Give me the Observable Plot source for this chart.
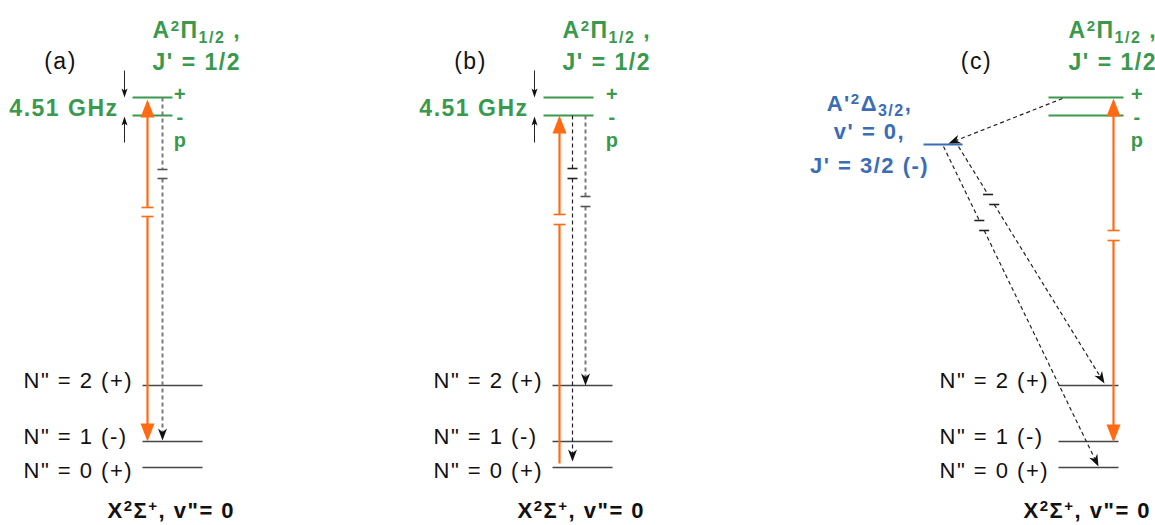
<!DOCTYPE html>
<html>
<head>
<meta charset="utf-8">
<script src="https://cdn.jsdelivr.net/npm/d3@7"></script>
<script src="https://cdn.jsdelivr.net/npm/@observablehq/plot@0.6"></script>
<style>
  body { margin: 0; background: #fff; }
  #chart svg { display: block; }
</style>
</head>
<body>
<div id="chart"></div>
<script>
// ---------------- data ----------------
const panelNames = ["(a)", "(b)", "(c)"];
const panelOffset = [0, 410, 916];          // horizontal shift of each panel (diagram units)

// ground state X2Σ+, v'' = 0 rotational levels
const groundNames = ['N" = 2 (+)', 'N" = 1 (-)', 'N" = 0 (+)'];
const groundLevel = [385, 441, 467];
const groundLabelLevel = [387, 443, 477];
const groundSpan = [142, 202];
const groundTitle = 'X^{2}Σ^{+}, v"= 0';

// excited state A2Π1/2, J' = 1/2 parity doublet
const parityNames = ["+", "-", "p"];
const parityLevel = [97, 115];
const parityLabelCenter = 116;
const excitedSpan = [[132, 172], [543, 593], [1048, 1123]];
const parityLabelX = [180, 612, 1137];
const excitedTitle = ["A^{2}Π_{1/2} ,", "J' = 1/2"];
const excitedTitleLevel = [37, 69];
const splittingText = "4.51 GHz";
const splittingPanels = [0, 1];

// A'2Δ3/2 intermediate level (panel c)
const deltaTitle = ["A'^{2}Δ_{3/2},", "v' = 0,", "J' = 3/2 (-)"];
const deltaTitleLevel = [110, 138, 172];
const deltaLevel = 144;
const deltaSpan = [923, 962];

// transitions: kind, from (x1,y1) to (x2,y2), heads, axis-break interval
const transitions = [
  {kind: "pump",  x1: 147,  y1: 441, x2: 147,  y2: 99,  heads: "both", brk: [207, 216]},
  {kind: "decayGray", x1: 162, y1: 97, x2: 162, y2: 440, heads: "end", brk: [169, 178]},
  {kind: "pump",  x1: 559,  y1: 463, x2: 559,  y2: 115, heads: "end",  brk: [214, 224]},
  {kind: "decay", x1: 572,  y1: 115, x2: 572,  y2: 461, heads: "end",  brk: [168, 178]},
  {kind: "decayGray", x1: 585, y1: 115, x2: 585, y2: 385, heads: "end", brk: [196, 206]},
  {kind: "pump",  x1: 1113, y1: 98,  x2: 1113, y2: 442, heads: "both", brk: [230, 240]},
  {kind: "decay", x1: 1062, y1: 98,  x2: 948,  y2: 143, heads: "end",  brk: null},
  {kind: "decay", x1: 958,  y1: 146, x2: 1104, y2: 383, heads: "end",  brk: [194, 204]},
  {kind: "decay", x1: 943,  y1: 146, x2: 1098, y2: 466, heads: "end",  brk: [220, 230]}
];
// splitting markers (arrows pointing at the doublet)
const gapArrowX = [124, 534];
const gapArrowFrom = [70, 142];
const gapArrowTo = [97, 116];

// ---------------- styles ----------------
const GREEN = "#3a994d", ORANGE = "#ff6a13", BLUE = "#3a6db5", INK = "#111";
const lineStyle = {
  pump:      {stroke: ORANGE, width: 2.2, dash: null, head: ORANGE, len: 18, w: 7, notch: 0, tick: 6},
  decayGray: {stroke: "#7b7b7b", width: 2, dash: "4,3", head: "#111", len: 12, w: 4.5, notch: 3.5, tick: 5},
  decay:     {stroke: "#222", width: 1.2, dash: "4,3", head: "#111", len: 12, w: 4.5, notch: 3.5, tick: 5},
  gap:       {stroke: "#222", width: 1, dash: null, head: "#111", len: 9, w: 3, notch: 2, tick: 0}
};

// ---------------- geometry built from data ----------------
const allArrows = transitions.slice();
gapArrowX.forEach(x => {
  allArrows.push({kind: "gap", x1: x, y1: gapArrowFrom[0], x2: x, y2: gapArrowTo[0], heads: "end", brk: null});
  allArrows.push({kind: "gap", x1: x, y1: gapArrowFrom[1], x2: x, y2: gapArrowTo[1], heads: "end", brk: null});
});

const segs = [], ticks = [], heads = [];
function addHead(id, kind, x, y, ux, uy) {
  const s = lineStyle[kind];
  const bx = x - ux * s.len, by = y - uy * s.len;
  const px = -uy, py = ux;
  const nx = x - ux * (s.len - s.notch), ny = y - uy * (s.len - s.notch);
  [[x, y], [bx + px * s.w, by + py * s.w], [nx, ny], [bx - px * s.w, by - py * s.w], [x, y]]
    .forEach(([hx, hy]) => heads.push({id, kind, x: hx, y: hy}));
}
allArrows.forEach((t, i) => {
  const s = lineStyle[t.kind];
  const dx = t.x2 - t.x1, dy = t.y2 - t.y1, L = Math.hypot(dx, dy);
  const ux = dx / L, uy = dy / L;
  let sx = t.x1, sy = t.y1;
  if (t.heads === "both") { sx += ux * s.len * 0.7; sy += uy * s.len * 0.7; }
  const ex = t.x2 - ux * s.len * 0.7, ey = t.y2 - uy * s.len * 0.7;
  const pts = [[sx, sy]];
  if (t.brk) {
    const ys = uy > 0 ? t.brk : [...t.brk].reverse();
    ys.forEach(by => {
      const bx = t.x1 + dx * (by - t.y1) / dy;
      pts.push([bx, by]);
      ticks.push({kind: t.kind, x1: bx - s.tick, x2: bx + s.tick, y: by});
    });
  }
  pts.push([ex, ey]);
  for (let k = 0; k < pts.length; k += 2)
    segs.push({kind: t.kind, x1: pts[k][0], y1: pts[k][1], x2: pts[k + 1][0], y2: pts[k + 1][1]});
  addHead(i + "e", t.kind, t.x2, t.y2, ux, uy);
  if (t.heads === "both") addHead(i + "s", t.kind, t.x1, t.y1, -ux, -uy);
});

// level lines and labels
const groundLines = [], groundLabels = [], excitedLines = [], parityLabels = [];
const panelLabels = [], titles = [], groundTitles = [];
panelNames.forEach((p, pi) => {
  const off = panelOffset[pi];
  panelLabels.push({x: 60 + off, y: 61, text: p});
  groundNames.forEach((n, k) => {
    groundLines.push({x1: groundSpan[0] + off, x2: groundSpan[1] + off, y: groundLevel[k]});
    groundLabels.push({x: 23 + off, y: groundLabelLevel[k], text: n});
  });
  groundTitles.push({x: 107 + off, y: 517, text: groundTitle});
  parityLevel.forEach(y => excitedLines.push({x1: excitedSpan[pi][0], x2: excitedSpan[pi][1], y}));
  parityLabels.push({x: parityLabelX[pi], y: parityLabelCenter, text: parityNames.join("\n")});
  excitedTitle.forEach((t, k) => titles.push({x: 152 + off, y: excitedTitleLevel[k], text: t}));
});
const splitLabels = splittingPanels.map(pi => ({x: 118 + panelOffset[pi], y: 115, text: splittingText}));
const deltaLabels = deltaTitle.map((t, k) => ({x: 869, y: deltaTitleLevel[k], text: t}));

// ---------------- marks ----------------
const kindMarks = [];
["decayGray", "decay", "gap", "pump"].forEach(kind => {
  const s = lineStyle[kind];
  kindMarks.push(Plot.link(segs.filter(d => d.kind === kind), {
    x1: "x1", y1: "y1", x2: "x2", y2: "y2", stroke: s.stroke, strokeWidth: s.width,
    strokeDasharray: s.dash || undefined, strokeLinecap: "butt"
  }));
  kindMarks.push(Plot.link(ticks.filter(d => d.kind === kind), {
    x1: "x1", x2: "x2", y1: "y", y2: "y", stroke: kind === "decayGray" ? "#555" : s.stroke, strokeWidth: 1.6
  }));
  kindMarks.push(Plot.line(heads.filter(d => d.kind === kind), {
    x: "x", y: "y", z: "id", fill: s.head, stroke: "none", curve: "linear"
  }));
});

const svg = Plot.plot({
  width: 1155, height: 525, margin: 0,
  x: {domain: [0, 1155], axis: null},
  y: {domain: [0, 525], range: [0, 525], axis: null},
  style: {fontFamily: '"Liberation Sans", Arial, sans-serif', letterSpacing: "1.5px", background: "#fff", overflow: "visible"},
  marks: [
    Plot.link(groundLines, {x1: "x1", x2: "x2", y1: "y", y2: "y", stroke: "#444", strokeWidth: 1.5}),
    Plot.link(excitedLines, {x1: "x1", x2: "x2", y1: "y", y2: "y", stroke: GREEN, strokeWidth: 2}),
    Plot.link([{x1: deltaSpan[0], x2: deltaSpan[1], y: deltaLevel}], {x1: "x1", x2: "x2", y1: "y", y2: "y", stroke: BLUE, strokeWidth: 2}),
    ...kindMarks,
    Plot.text(panelLabels, {x: "x", y: "y", text: "text", fontSize: 23, fill: INK, textAnchor: "middle", lineAnchor: "middle"}),
    Plot.text(groundLabels, {x: "x", y: "y", text: "text", fontSize: 22, fill: INK, textAnchor: "start", lineAnchor: "bottom"}),
    Plot.text(groundTitles, {x: "x", y: "y", text: "text", fontSize: 22, fontWeight: "bold", fill: INK, textAnchor: "start", lineAnchor: "bottom"}),
    Plot.text(titles, {x: "x", y: "y", text: "text", fontSize: 23, fontWeight: "bold", fill: GREEN, textAnchor: "start", lineAnchor: "bottom"}),
    Plot.text(parityLabels, {x: "x", y: "y", text: "text", fontSize: 20, lineHeight: 1.15, fontWeight: "bold", fill: GREEN, textAnchor: "middle", lineAnchor: "middle"}),
    Plot.text(splitLabels, {x: "x", y: "y", text: "text", fontSize: 23, fontWeight: "bold", fill: GREEN, textAnchor: "end", lineAnchor: "bottom"}),
    Plot.text(deltaLabels, {x: "x", y: "y", text: "text", fontSize: 22, fontWeight: "bold", fill: BLUE, textAnchor: "middle", lineAnchor: "bottom"})
  ]
});

// rich text: ^{..} superscript, _{..} subscript
const NS = "http://www.w3.org/2000/svg";
svg.querySelectorAll("text").forEach(t => {
  const s = t.textContent;
  if (!/[\^_]\{/.test(s)) return;
  while (t.firstChild) t.removeChild(t.firstChild);
  const re = /([\^_])\{([^}]*)\}/g;
  let last = 0, m, shift = 0;
  const add = (str, kind) => {
    const ts = document.createElementNS(NS, "tspan");
    ts.textContent = str;
    const target = kind === "^" ? -7 : kind === "_" ? 5 : 0;
    if (kind) ts.setAttribute("font-size", kind === "^" ? 15 : 16);
    if (target - shift !== 0) ts.setAttribute("dy", target - shift);
    shift = target;
    t.appendChild(ts);
  };
  while ((m = re.exec(s))) {
    if (m.index > last) add(s.slice(last, m.index), null);
    add(m[2], m[1]);
    last = re.lastIndex;
  }
  if (last < s.length) add(s.slice(last), null);
});

document.getElementById("chart").appendChild(svg);
</script>
</body>
</html>
